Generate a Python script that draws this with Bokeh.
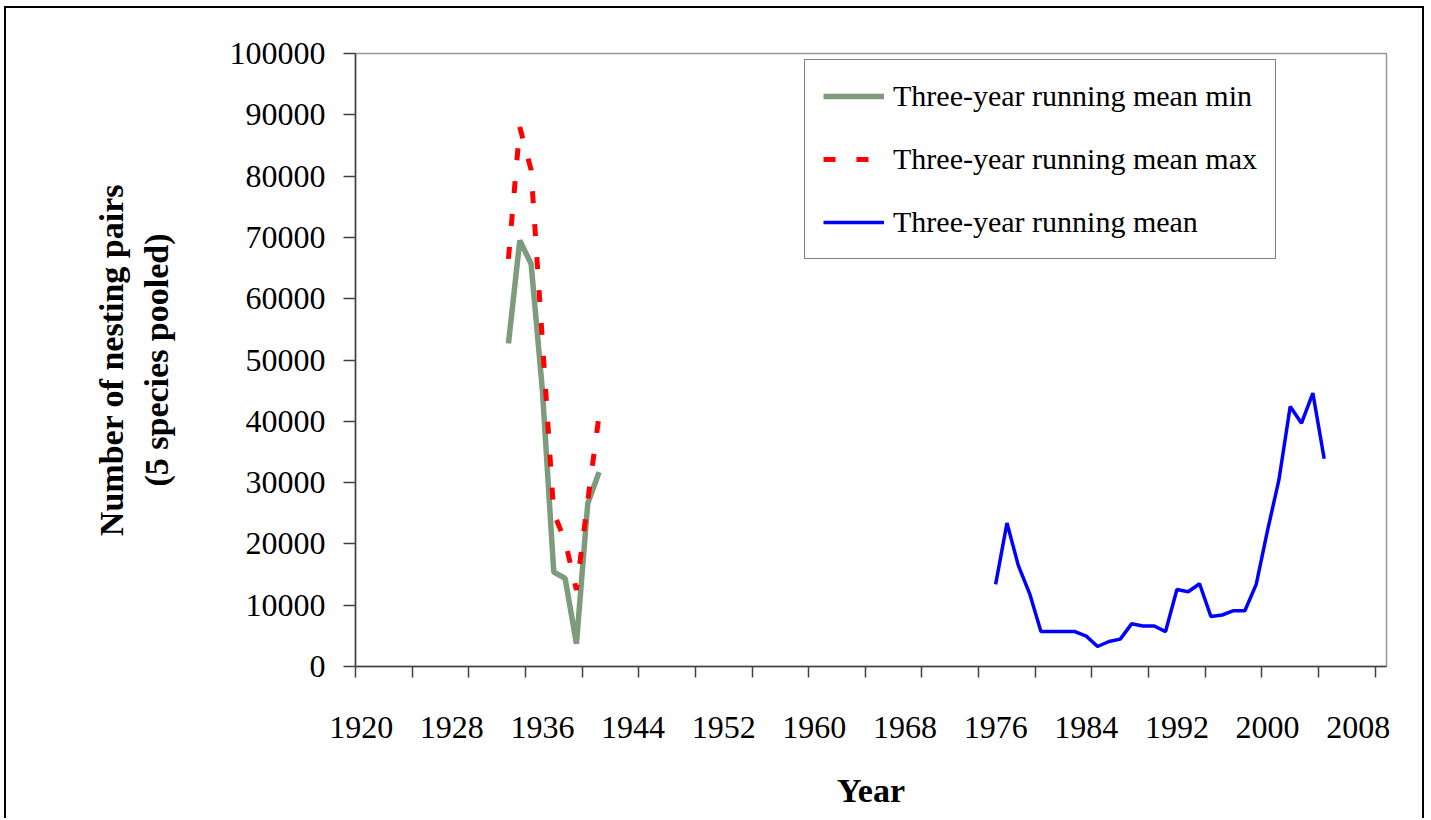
from bokeh.plotting import figure
from bokeh.models import Range1d, FixedTicker, Legend, LegendItem, NumeralTickFormatter
from bokeh.embed import file_html
from bokeh.resources import INLINE

# ---- data ----
years_early = [1933, 1934, 1935, 1936, 1937, 1938, 1939, 1940, 1941]
mean_min = [52700, 69500, 65700, 45000, 15400, 14400, 3700, 26600, 31700]
mean_max = [66500, 88000, 81000, 53000, 25000, 20500, 12500, 27000, 41000]

years_late = list(range(1976, 2006))
mean_run = [13400, 23400, 16500, 11900, 5700, 5700, 5700, 5700, 4950, 3260,
            4080, 4460, 6960, 6600, 6600, 5700, 12560, 12200, 13500, 8160,
            8400, 9100, 9100, 13400, 22200, 30400, 42400, 39700, 44600, 33900]

first_year, last_year = 1920, 2010
x_label_years = list(range(1920, 2009, 8))
y_ticks = list(range(0, 100001, 10000))

FONT = "Liberation Serif"

p = figure(frame_width=1031, frame_height=613,
           x_range=Range1d(first_year - 0.5, last_year + 0.5),
           y_range=Range1d(0, 100000),
           output_backend="svg", toolbar_location=None,
           min_border_left=349, min_border_right=36,
           min_border_top=45, min_border_bottom=152)
p.styles = {"border-left": "2px solid black", "border-top": "2px solid black",
            "border-right": "2px solid black",
            "margin-left": "4px", "margin-top": "6px"}

p.background_fill_color = "white"
p.border_fill_color = "white"
p.outline_line_color = "#999999"
p.outline_line_width = 1.5
p.xgrid.visible = False
p.ygrid.visible = False

r_min = p.line(years_early, mean_min, line_color="#7e9b7e", line_width=5.5)
r_max = p.line(years_early, mean_max, line_color="#ff0000", line_width=5,
               line_dash="12 21")
r_mean = p.line(years_late, mean_run, line_color="#0000ff", line_width=3.5)

# x axis: labels every 8 years, tick marks at category boundaries every 5 years
boundaries = [y - 0.5 for y in range(first_year, last_year + 2, 5)]
p.xaxis.ticker = FixedTicker(ticks=x_label_years, minor_ticks=boundaries)
p.xaxis.major_tick_out = 0
p.xaxis.major_tick_in = 0
p.xaxis.minor_tick_out = 11
p.xaxis.minor_tick_in = 0
p.xaxis.minor_tick_line_color = "#404040"
p.xaxis.minor_tick_line_width = 1.5
p.xaxis.major_label_standoff = 39
p.xaxis.axis_label = "Year"
p.xaxis.axis_label_standoff = 31

p.yaxis.ticker = FixedTicker(ticks=y_ticks, minor_ticks=[])
p.yaxis.formatter = NumeralTickFormatter(format="0")
p.yaxis.major_tick_out = 12
p.yaxis.major_tick_in = 0
p.yaxis.major_label_standoff = 18
p.yaxis.axis_label = "Number of nesting pairs\n(5 species pooled)"
p.yaxis.axis_label_standoff = 52

for ax in (p.xaxis, p.yaxis):
    ax.axis_line_color = "#404040"
    ax.axis_line_width = 1.5
    ax.major_tick_line_color = "#404040"
    ax.major_tick_line_width = 1.5
    ax.major_label_text_font = FONT
    ax.major_label_text_font_size = "32px"
    ax.major_label_text_color = "black"
    ax.axis_label_text_font = FONT
    ax.axis_label_text_font_size = "34px"
    ax.axis_label_text_font_style = "bold"
    ax.axis_label_text_color = "black"

legend = Legend(items=[
    LegendItem(label="Three-year running mean min", renderers=[r_min]),
    LegendItem(label="Three-year running mean max", renderers=[r_max]),
    LegendItem(label="Three-year running mean", renderers=[r_mean]),
], location=(449, 407))
legend.label_text_font = FONT
legend.label_text_font_size = "30px"
legend.label_text_color = "black"
legend.glyph_width = 61
legend.glyph_height = 36
legend.label_height = 36
legend.label_standoff = 9
legend.spacing = 27
legend.padding = 18
legend.margin = 0
legend.border_line_color = "black"
legend.border_line_width = 1
legend.background_fill_color = "white"
legend.background_fill_alpha = 1
p.add_layout(legend, "center")

open("out.html", "w").write(file_html(p, INLINE))
